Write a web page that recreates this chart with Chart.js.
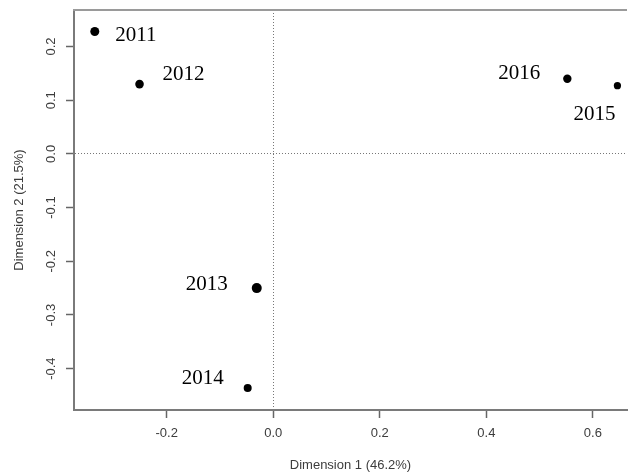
<!DOCTYPE html>
<html>
<head>
<meta charset="utf-8">
<script src="https://cdn.jsdelivr.net/npm/chart.js@4.4.0/dist/chart.umd.min.js"></script>
<style>
  html, body { margin: 0; padding: 0; background: #fff; }
  #wrap { width: 632px; height: 475px; }
</style>
</head>
<body>
<div id="wrap"><canvas id="mcaChart" width="632" height="475"></canvas></div>
<script>
// Years and their coordinates on the first two dimensions
const years = ['2011', '2012', '2013', '2014', '2015', '2016'];
const dim1 = [-0.335, -0.251, -0.031, -0.048, 0.646, 0.552];
const dim2 = [0.228, 0.130, -0.250, -0.436, 0.127, 0.140];

const xTitle = 'Dimension 1 (46.2%)';
const yTitle = 'Dimension 2 (21.5%)';

// label offsets (px) from each point, same order as years
const labelOffsets = [[41, 4], [44, -10], [-50, -4], [-45, -10], [-23, 29], [-48, -5]];
const pointSizes = [4.5, 4.3, 5, 4, 3.6, 4.2];

const axisGray = '#7a7a7a';
const textGray = '#3c3c3c';
const sansFont = '"Liberation Sans", Arial, sans-serif';

// year labels next to points
const yearLabels = {
    id: 'yearLabels',
    afterDatasetsDraw(chart) {
        const ctx = chart.ctx;
        const meta = chart.getDatasetMeta(0);
        ctx.save();
        ctx.font = '21px "Liberation Serif", "Times New Roman", serif';
        ctx.fillStyle = '#000';
        ctx.textAlign = 'center';
        ctx.textBaseline = 'middle';
        meta.data.forEach((pt, i) => {
            const off = labelOffsets[i];
            ctx.fillText(years[i], pt.x + off[0], pt.y + off[1]);
        });
        ctx.restore();
    }
};

// top border line + rotated y tick labels (R style)
const frameExtras = {
    id: 'frameExtras',
    afterDraw(chart) {
        const ctx = chart.ctx;
        const area = chart.chartArea;
        const yScale = chart.scales.y;
        ctx.save();
        ctx.strokeStyle = '#9a9a9a';
        ctx.lineWidth = 2;
        ctx.beginPath();
        ctx.moveTo(area.left - 1, area.top);
        ctx.lineTo(area.right, area.top);
        ctx.stroke();

        ctx.font = '13px ' + sansFont;
        ctx.fillStyle = textGray;
        ctx.textAlign = 'center';
        ctx.textBaseline = 'middle';
        yScale.ticks.forEach(t => {
            const py = yScale.getPixelForValue(t.value);
            ctx.save();
            ctx.translate(51, py);
            ctx.rotate(-Math.PI / 2);
            ctx.fillText(t.value.toFixed(1), 0, 0);
            ctx.restore();
        });
        ctx.restore();
    }
};

function zeroLine(c) {
    return c.tick && Math.abs(c.tick.value) < 1e-9 ? '#777' : 'rgba(0,0,0,0)';
}

new Chart(document.getElementById('mcaChart'), {
    type: 'scatter',
    data: {
        datasets: [{
            data: years.map((y, i) => ({ x: dim1[i], y: dim2[i] })),
            backgroundColor: '#000',
            borderWidth: 0,
            pointRadius: pointSizes,
            pointHoverRadius: pointSizes
        }]
    },
    options: {
        responsive: false,
        animation: false,
        layout: { padding: { top: 10, right: 0, left: 0, bottom: 0 } },
        plugins: {
            legend: { display: false },
            tooltip: { enabled: false }
        },
        scales: {
            x: {
                type: 'linear',
                min: -0.374,
                max: 0.664,
                afterFit(scale) { scale.height = 65; },
                ticks: {
                    stepSize: 0.2,
                    includeBounds: false,
                    padding: 8,
                    color: textGray,
                    font: { family: sansFont, size: 13 },
                    maxRotation: 0,
                    callback: v => v.toFixed(1)
                },
                grid: {
                    color: zeroLine,
                    lineWidth: 1,
                    tickColor: '#666',
                    tickLength: 8,
                    tickWidth: 1.5
                },
                border: { color: axisGray, width: 2, dash: [1, 2] },
                title: {
                    display: true,
                    text: xTitle,
                    color: textGray,
                    font: { family: sansFont, size: 13 },
                    padding: { top: 0, bottom: 2 }
                }
            },
            y: {
                type: 'linear',
                min: -0.477,
                max: 0.268,
                afterFit(scale) { scale.width = 74; },
                ticks: {
                    stepSize: 0.1,
                    includeBounds: false,
                    display: false
                },
                grid: {
                    color: zeroLine,
                    lineWidth: 1,
                    tickColor: '#666',
                    tickLength: 8,
                    tickWidth: 1.5
                },
                border: { color: axisGray, width: 2, dash: [1, 2] },
                title: {
                    display: true,
                    text: yTitle,
                    color: textGray,
                    font: { family: sansFont, size: 13 },
                    padding: { top: 12, bottom: 0 }
                }
            }
        }
    },
    plugins: [yearLabels, frameExtras]
});
</script>
</body>
</html>
